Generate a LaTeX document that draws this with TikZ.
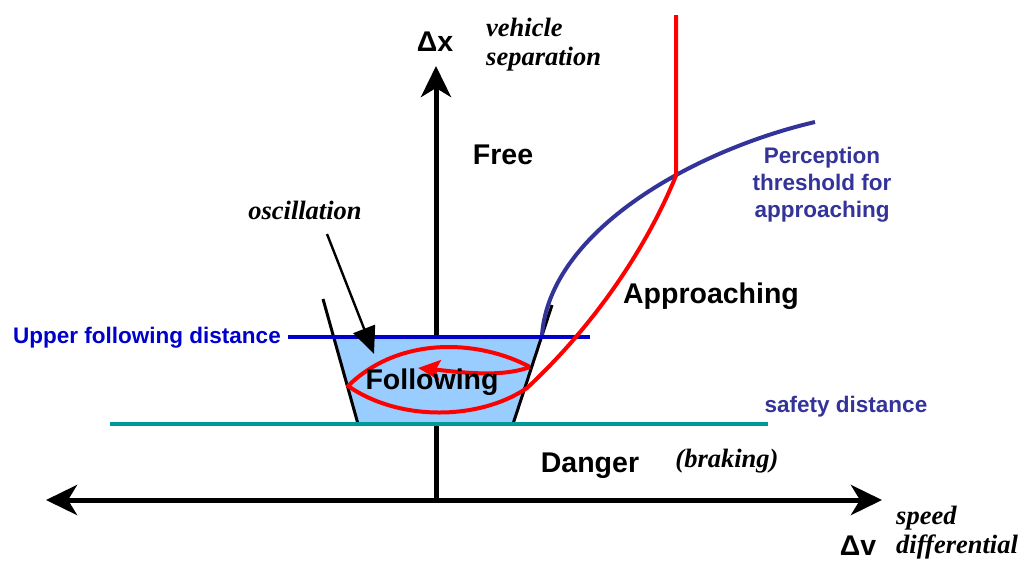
\documentclass[tikz,border=0pt]{standalone}
\usepackage{fontspec}
\setmainfont{Liberation Serif}
\setsansfont{Liberation Sans}
\usetikzlibrary{arrows.meta}
\definecolor{ufblue}{HTML}{0000CC}
\definecolor{perc}{HTML}{333399}
\definecolor{teal2}{HTML}{009999}
\definecolor{fillb}{HTML}{99CCFF}
\definecolor{red2}{HTML}{FF0000}
\tikzset{
  big/.style={font=\sffamily\bfseries\fontsize{28.5}{30}\selectfont, inner sep=0pt},
  small/.style={font=\sffamily\bfseries\fontsize{22.5}{27}\selectfont, inner sep=0pt},
  ital/.style={font=\rmfamily\itshape\bfseries\fontsize{26.5}{29}\selectfont, inner sep=0pt},
  axistip/.tip={Stealth[length=31pt,width=30pt,inset=9pt]},
}
\begin{document}
\begin{tikzpicture}[x=1pt,y=-1pt]
\useasboundingbox (0,0) rectangle (1030,560);
% coordinates
\coordinate (origin) at (436,500);
\coordinate (ytip) at (436,66);
\coordinate (xl) at (46,500);
\coordinate (xr) at (882,500);
\coordinate (tl) at (333.6,337);
\coordinate (tr) at (541.5,337);
\coordinate (bl) at (358,424);
\coordinate (br) at (513,424);
\coordinate (ltop) at (323,299);
\coordinate (rtop) at (552,305);
\coordinate (uf1) at (288,337);
\coordinate (uf2) at (590,337);
\coordinate (sd1) at (110,424);
\coordinate (sd2) at (768,424);
\coordinate (redtop) at (676,15);
\coordinate (lensR) at (527,388);
\coordinate (lensL) at (348,386);
\coordinate (lensT) at (530,367);
\coordinate (arrtip) at (418,368);
\coordinate (pc1) at (542,335);
\coordinate (pc2) at (815,122);
\coordinate (osc1) at (327,234);
\coordinate (osc2) at (374,354);
% axes
\draw[line width=5pt, -axistip] (origin) -- (ytip);
\draw[line width=5pt, axistip-axistip] (xl) -- (xr);
% fill
\fill[fillb] (tl) -- (tr) -- (br) -- (bl) -- cycle;
% trapezoid sides
\draw[line width=3pt] (ltop) -- (bl);
\draw[line width=3pt] (br) -- (rtop);
% lines
\draw[ufblue, line width=4pt] (uf1) -- (uf2);
\draw[teal2, line width=4pt] (sd1) -- (sd2);
% perception curve
\draw[perc, line width=4pt] (pc1) .. controls (550,230) and (695,150) .. coordinate[pos=0.62] (cross) (pc2);
% red path
\draw[red2, line width=4pt, line join=round] (redtop) -- (redtop |- cross) -- (cross)
  .. controls (650,240) and (600,320) .. (lensR)
  .. controls (480,420) and (400,422) .. (lensL)
  .. controls (400,335) and (480,340) .. (lensT);
\draw[red2, line width=4pt, -{Stealth[length=22pt,width=20pt,inset=4pt]}] (lensT) .. controls (500,378) and (460,372) .. (arrtip);
% oscillation arrow
\draw[line width=2.4pt, -{Triangle[length=27pt,width=23pt]}] (osc1) -- (osc2);
% labels
\node[big] (dx) at (435,42) {Δx};
\node[ital, anchor=west, align=left] (vs) at (486,45) {vehicle\\separation};
\node[big] (free) at (503,155) {Free};
\node[ital] (osc) at (305,210) {oscillation};
\node[small, text=ufblue] (uf) at (147,338) {Upper following distance};
\node[big] (fol) at (432,382) {Following};
\node[small, text=perc, align=center] (pt) at (822,185) {Perception\\threshold for\\approaching};
\node[big] (app) at (711,296) {Approaching};
\node[small, text=perc] (sd) at (846,407) {safety distance};
\node[big] (dan) at (590,466) {Danger};
\node[ital] (brk) at (727,461) {(braking)};
\node[ital, anchor=west, align=left] (sp) at (896,533) {speed\\differential};
\node[big] (dv) at (858,546) {Δv};
\end{tikzpicture}
\end{document}
